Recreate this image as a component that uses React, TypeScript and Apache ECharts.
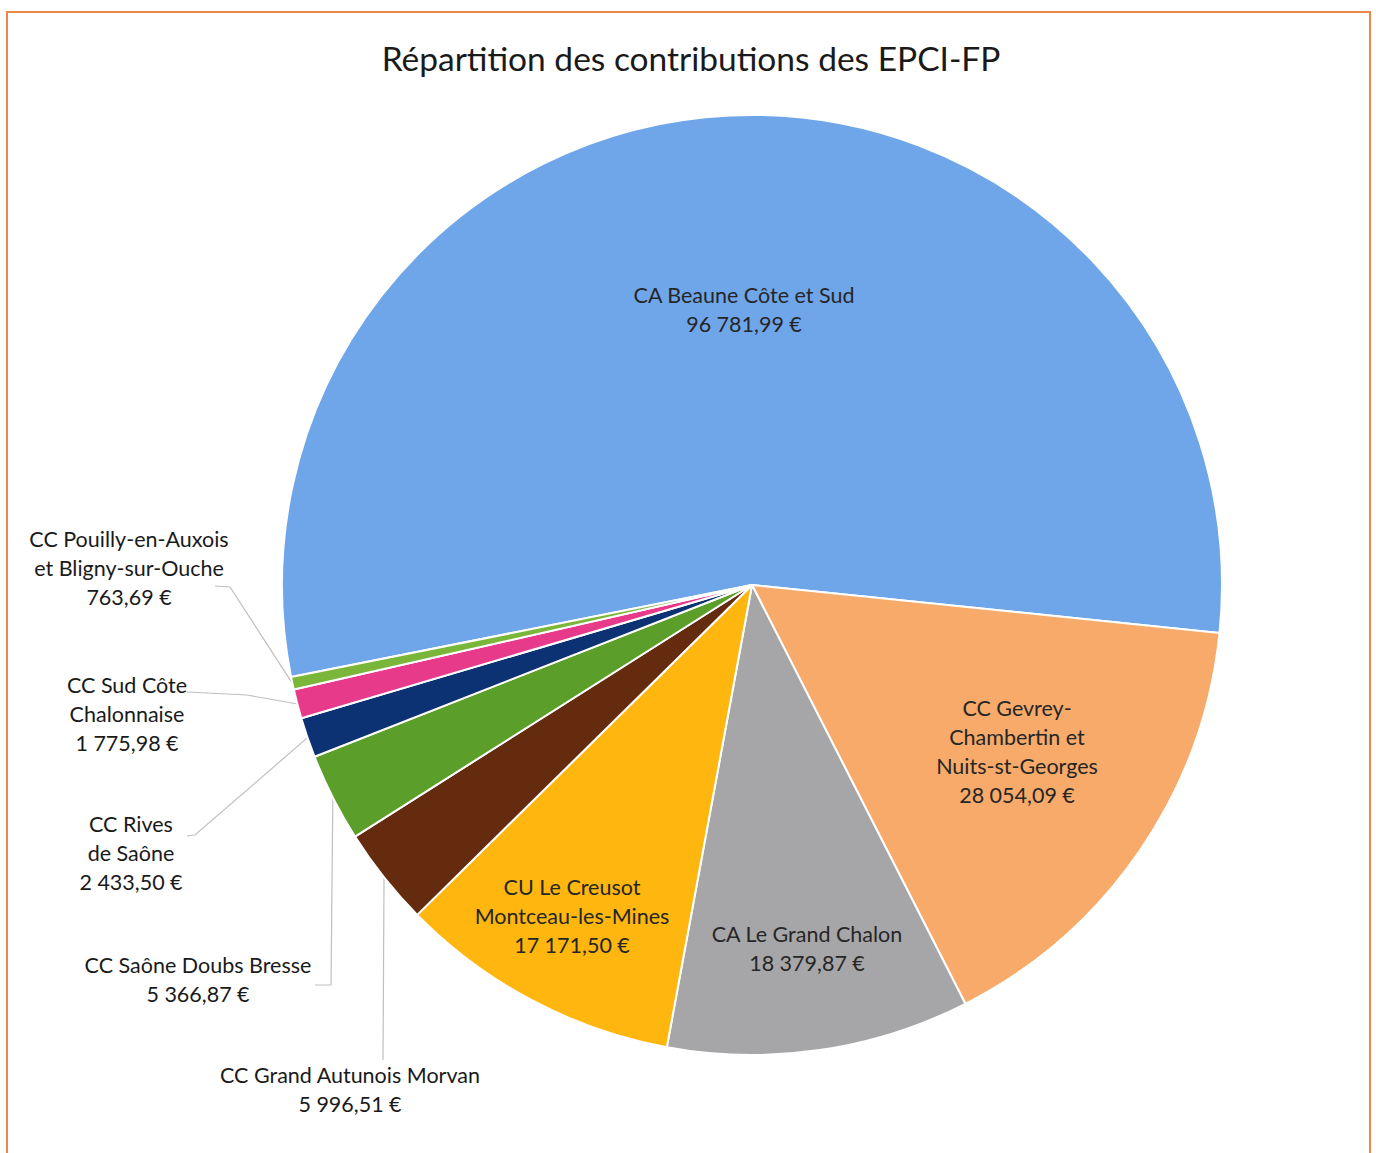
import React, { useEffect, useRef } from "react";
import * as echarts from "echarts";

const categories = [
  "CA Beaune Côte et Sud",
  "CC Gevrey-Chambertin et Nuits-st-Georges",
  "CA Le Grand Chalon",
  "CU Le Creusot Montceau-les-Mines",
  "CC Grand Autunois Morvan",
  "CC Saône Doubs Bresse",
  "CC Rives de Saône",
  "CC Sud Côte Chalonnaise",
  "CC Pouilly-en-Auxois et Bligny-sur-Ouche",
];
const labelNames = [
  "CA Beaune Côte et Sud",
  "CC Gevrey-\nChambertin et\nNuits-st-Georges",
  "CA Le Grand Chalon",
  "CU Le Creusot\nMontceau-les-Mines",
  "CC Grand Autunois Morvan",
  "CC Saône Doubs Bresse",
  "CC Rives\nde Saône",
  "CC Sud Côte\nChalonnaise",
  "CC Pouilly-en-Auxois\net Bligny-sur-Ouche",
];
const values = [96781.99, 28054.09, 18379.87, 17171.5, 5996.51, 5366.87, 2433.5, 1775.98, 763.69];
const colors = ["#6FA6EA", "#F7AA69", "#A6A6A8", "#FFB60F", "#652B0E", "#5B9E2A", "#0C3273", "#E83A8B", "#7AB63A"];
const insideIdx = [0, 1, 2, 3];

// label anchor positions (layout, not data)
const labelPos: Record<number, [number, number]> = {
  0: [744, 309],
  1: [1017, 751],
  2: [807, 948],
  3: [572, 916],
  4: [350, 1089],
  5: [198, 979],
  6: [131, 853],
  7: [127, 714],
  8: [129, 568],
};
const linePts: Record<number, number[][]> = {
  4: [[383, 1060]],
  5: [[331, 985], [315, 985]],
  6: [[195, 835], [187, 836]],
  7: [[247, 695], [187, 692]],
  8: [[230, 587], [215, 586]],
};

function fmt(v: number): string {
  const [i, d] = v.toFixed(2).split(".");
  const ip = i.replace(/\B(?=(\d{3})+(?!\d))/g, " ");
  return ip + "," + d + " €";
}

export default function App() {
  const ref = useRef<HTMLDivElement>(null);
  useEffect(() => {
    if (!ref.current) return;
    const chart = echarts.init(ref.current, null, { renderer: "svg" });
    const font = "Lato, 'Open Sans', sans-serif";
    chart.setOption({
      animation: false,
      backgroundColor: "#ffffff",
      title: {
        text: "Répartition des contributions des EPCI-FP",
        left: 686,
        top: 36,
        textAlign: "center",
        textStyle: { fontFamily: font, fontSize: 33.5, fontWeight: "normal", color: "#1a1a1a" },
      },
      graphic: [
        {
          type: "rect",
          shape: { x: 7, y: 12, width: 1363, height: 1170 },
          style: { fill: "none", stroke: "#E8894A", lineWidth: 2 },
          silent: true,
        },
      ],
      series: [
        {
          type: "pie",
          center: [752, 585],
          radius: [0, 470],
          startAngle: 191.3,
          clockwise: true,
          avoidLabelOverlap: false,
          itemStyle: { borderColor: "#ffffff", borderWidth: 2 },
          label: {
            fontFamily: font,
            fontSize: 21.5,
            lineHeight: 29,
            color: "#262626",
            align: "center",
            formatter: (p: any) => labelNames[p.dataIndex] + "\n" + fmt(p.value),
          },
          labelLine: {
            show: true,
            length: 10,
            length2: 10,
            lineStyle: { color: "#BFBFBF", width: 1.2 },
          },
          labelLayout: (p: any) => {
            const pos = labelPos[p.dataIndex];
            const res: any = { x: pos[0], y: pos[1], align: "center", verticalAlign: "middle" };
            if (linePts[p.dataIndex] && p.labelLinePoints) {
              res.labelLinePoints = [p.labelLinePoints[0], ...linePts[p.dataIndex]];
            }
            return res;
          },
          data: values.map((v, i) => ({
            name: categories[i],
            value: v,
            itemStyle: { color: colors[i] },
            label: {
              position: insideIdx.includes(i) ? "inside" : "outside",
              color: insideIdx.includes(i) ? "#262626" : "#1a1a1a",
            },
            labelLine: { show: !insideIdx.includes(i) },
          })),
        },
      ],
    });
    return () => chart.dispose();
  }, []);
  return (
    <div
      ref={ref}
      style={{ position: "fixed", left: 0, top: 0, width: 1376, height: 1153 }}
    />
  );
}
